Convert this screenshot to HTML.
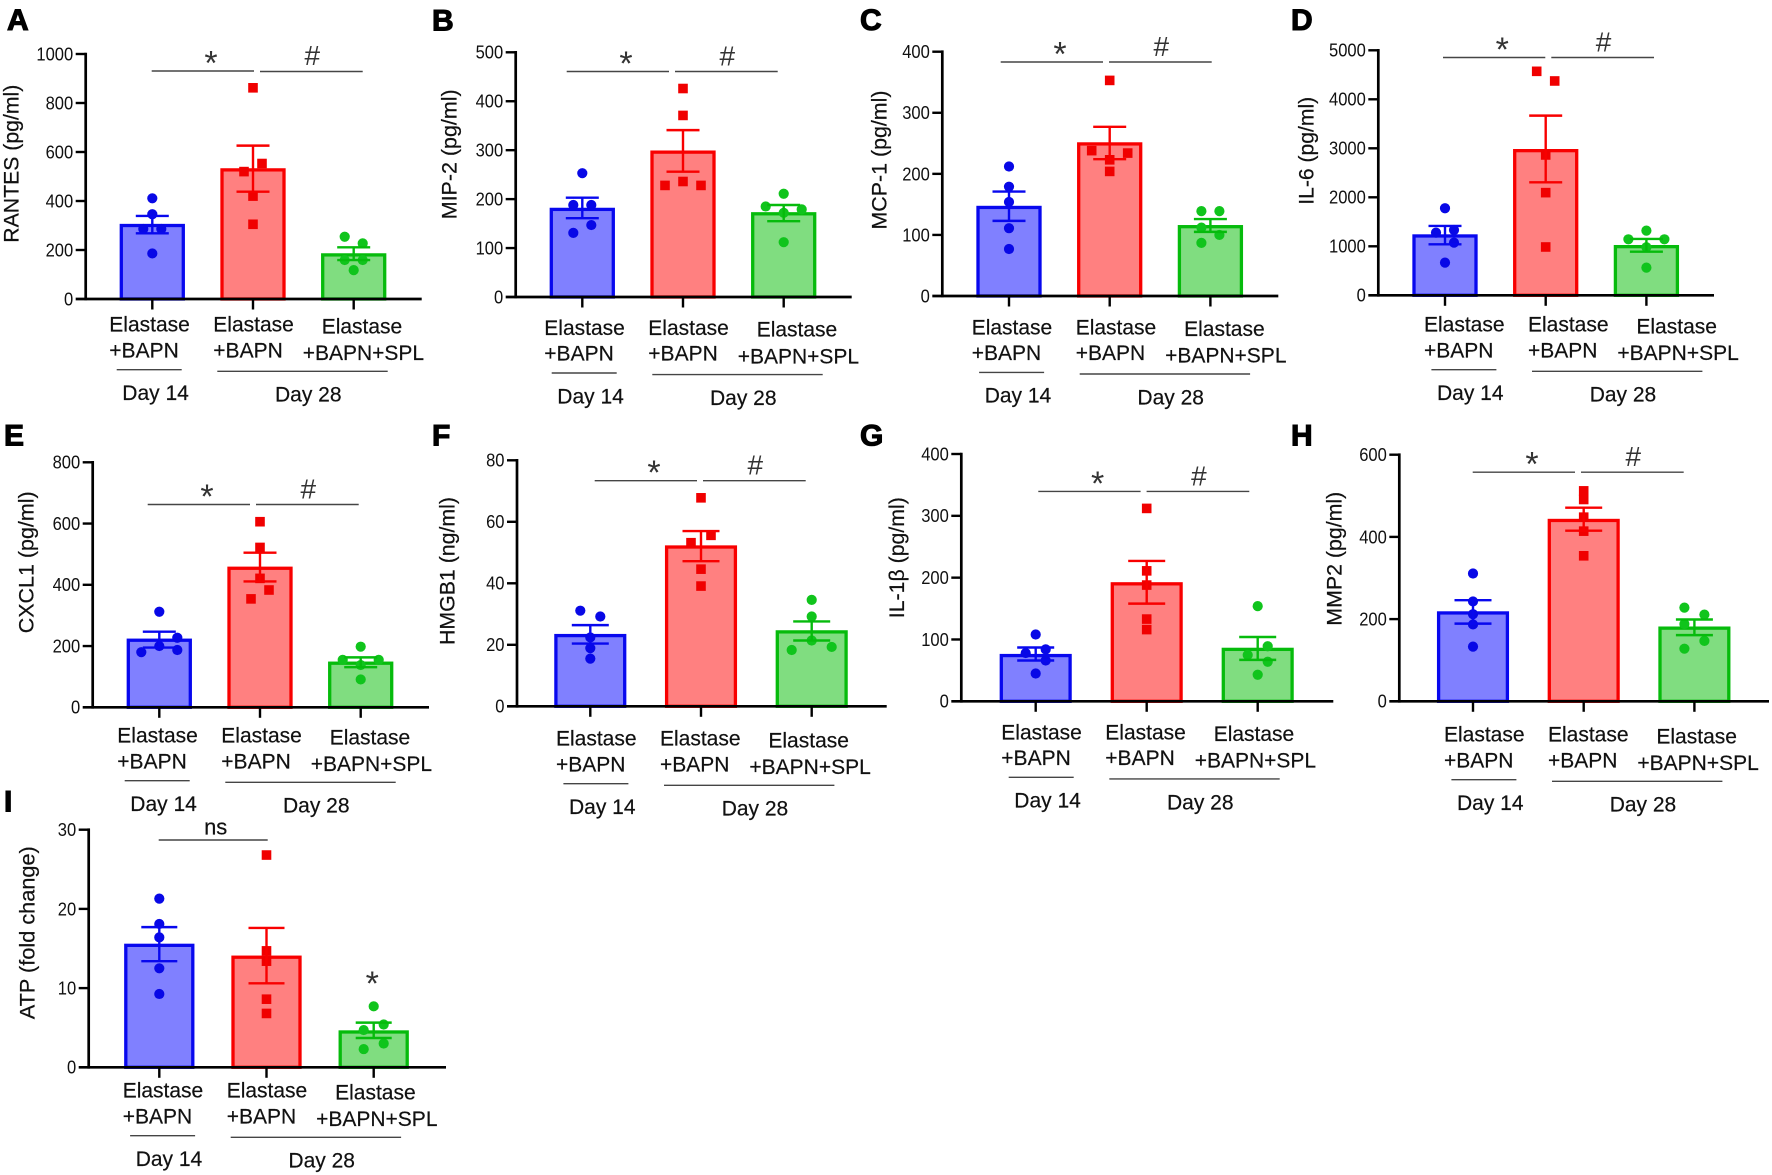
<!DOCTYPE html>
<html lang="en">
<head>
<meta charset="utf-8">
<title>Cytokine bar charts</title>
<style>
html,body{margin:0;padding:0;background:#fff;}
svg{display:block;filter:blur(0.3px);}
text{font-family:"Liberation Sans",Arial,sans-serif;fill:#111;}
.cat{font-size:21px;stroke:#111;stroke-width:.2px;}
.ttl{font-size:21px;text-anchor:middle;stroke:#111;stroke-width:.2px;}
.ltr{font-size:30px;font-weight:bold;fill:#000;stroke:#000;stroke-width:1.1px;}
.rule{stroke:#454545;stroke-width:1.4;fill:none;}
.star{font-size:34px;text-anchor:middle;fill:#333;}
.hash{font-size:28px;text-anchor:middle;fill:#333;}
</style>
</head>
<body>
<svg id="figure" xmlns="http://www.w3.org/2000/svg" width="1772" height="1175" viewBox="0 0 1772 1175">
<rect x="0" y="0" width="1772" height="1175" fill="#fff"/>

<!-- Panel letters -->
<text class="ltr" x="7" y="30">A</text>
<text class="ltr" x="432" y="30.5">B</text>
<text class="ltr" x="860" y="30">C</text>
<text class="ltr" x="1291" y="30">D</text>
<text class="ltr" x="4" y="445.7">E</text>
<text class="ltr" x="432" y="445.7">F</text>
<text class="ltr" x="860" y="445.7">G</text>
<text class="ltr" x="1291" y="445.7">H</text>
<text class="ltr" x="4" y="811.7">I</text>

<!-- Y axis titles -->
<text class="ttl" textLength="158" lengthAdjust="spacingAndGlyphs" transform="translate(18.3 163.7) rotate(-90)">RANTES (pg/ml)</text>
<text class="ttl" textLength="130" lengthAdjust="spacingAndGlyphs" transform="translate(456.7 154.3) rotate(-90)">MIP-2 (pg/ml)</text>
<text class="ttl" textLength="139" lengthAdjust="spacingAndGlyphs" transform="translate(886.7 160) rotate(-90)">MCP-1 (pg/ml)</text>
<text class="ttl" textLength="108" lengthAdjust="spacingAndGlyphs" transform="translate(1313.3 150.8) rotate(-90)">IL-6 (pg/ml)</text>
<text class="ttl" textLength="142" lengthAdjust="spacingAndGlyphs" transform="translate(33.3 562.3) rotate(-90)">CXCL1 (pg/ml)</text>
<text class="ttl" textLength="148" lengthAdjust="spacingAndGlyphs" transform="translate(454.3 571) rotate(-90)">HMGB1 (ng/ml)</text>
<text class="ttl" textLength="121" lengthAdjust="spacingAndGlyphs" transform="translate(904 557.7) rotate(-90)">IL-1β (pg/ml)</text>
<text class="ttl" textLength="134" lengthAdjust="spacingAndGlyphs" transform="translate(1341.7 558.7) rotate(-90)">MMP2 (pg/ml)</text>
<text class="ttl" textLength="173" lengthAdjust="spacingAndGlyphs" transform="translate(34.3 932.7) rotate(-90)">ATP (fold change)</text>

<!-- Category labels -->
<g transform="translate(0 0)">
<text class="cat" x="109.3" y="331.7">Elastase</text>
<text class="cat" x="109.3" y="357.3">+BAPN</text>
<text class="cat" x="213.3" y="331.7">Elastase</text>
<text class="cat" x="213.3" y="357.3">+BAPN</text>
<text class="cat" x="321.7" y="333.3">Elastase</text>
<text class="cat" x="302.7" y="360">+BAPN+SPL</text>
<line class="rule" x1="116.7" x2="181.7" y1="369.7" y2="369.7"/>
<line class="rule" x1="217.3" x2="387.7" y1="371.3" y2="371.3"/>
<text class="cat" x="122.3" y="400">Day 14</text>
<text class="cat" x="275" y="401.7">Day 28</text>
</g>
<g transform="translate(435 3.3)">
<text class="cat" x="109.3" y="331.7">Elastase</text>
<text class="cat" x="109.3" y="357.3">+BAPN</text>
<text class="cat" x="213.3" y="331.7">Elastase</text>
<text class="cat" x="213.3" y="357.3">+BAPN</text>
<text class="cat" x="321.7" y="333.3">Elastase</text>
<text class="cat" x="302.7" y="360">+BAPN+SPL</text>
<line class="rule" x1="116.7" x2="181.7" y1="369.7" y2="369.7"/>
<line class="rule" x1="217.3" x2="387.7" y1="371.3" y2="371.3"/>
<text class="cat" x="122.3" y="400">Day 14</text>
<text class="cat" x="275" y="401.7">Day 28</text>
</g>
<g transform="translate(862.4 2.7)">
<text class="cat" x="109.3" y="331.7">Elastase</text>
<text class="cat" x="109.3" y="357.3">+BAPN</text>
<text class="cat" x="213.3" y="331.7">Elastase</text>
<text class="cat" x="213.3" y="357.3">+BAPN</text>
<text class="cat" x="321.7" y="333.3">Elastase</text>
<text class="cat" x="302.7" y="360">+BAPN+SPL</text>
<line class="rule" x1="116.7" x2="181.7" y1="369.7" y2="369.7"/>
<line class="rule" x1="217.3" x2="387.7" y1="371.3" y2="371.3"/>
<text class="cat" x="122.3" y="400">Day 14</text>
<text class="cat" x="275" y="401.7">Day 28</text>
</g>
<g transform="translate(1314.7 0)">
<text class="cat" x="109.3" y="331.7">Elastase</text>
<text class="cat" x="109.3" y="357.3">+BAPN</text>
<text class="cat" x="213.3" y="331.7">Elastase</text>
<text class="cat" x="213.3" y="357.3">+BAPN</text>
<text class="cat" x="321.7" y="333.3">Elastase</text>
<text class="cat" x="302.7" y="360">+BAPN+SPL</text>
<line class="rule" x1="116.7" x2="181.7" y1="369.7" y2="369.7"/>
<line class="rule" x1="217.3" x2="387.7" y1="371.3" y2="371.3"/>
<text class="cat" x="122.3" y="400">Day 14</text>
<text class="cat" x="275" y="401.7">Day 28</text>
</g>
<g transform="translate(8 411)">
<text class="cat" x="109.3" y="331.7">Elastase</text>
<text class="cat" x="109.3" y="357.3">+BAPN</text>
<text class="cat" x="213.3" y="331.7">Elastase</text>
<text class="cat" x="213.3" y="357.3">+BAPN</text>
<text class="cat" x="321.7" y="333.3">Elastase</text>
<text class="cat" x="302.7" y="360">+BAPN+SPL</text>
<line class="rule" x1="116.7" x2="181.7" y1="369.7" y2="369.7"/>
<line class="rule" x1="217.3" x2="387.7" y1="371.3" y2="371.3"/>
<text class="cat" x="122.3" y="400">Day 14</text>
<text class="cat" x="275" y="401.7">Day 28</text>
</g>
<g transform="translate(446.7 414)">
<text class="cat" x="109.3" y="331.7">Elastase</text>
<text class="cat" x="109.3" y="357.3">+BAPN</text>
<text class="cat" x="213.3" y="331.7">Elastase</text>
<text class="cat" x="213.3" y="357.3">+BAPN</text>
<text class="cat" x="321.7" y="333.3">Elastase</text>
<text class="cat" x="302.7" y="360">+BAPN+SPL</text>
<line class="rule" x1="116.7" x2="181.7" y1="369.7" y2="369.7"/>
<line class="rule" x1="217.3" x2="387.7" y1="371.3" y2="371.3"/>
<text class="cat" x="122.3" y="400">Day 14</text>
<text class="cat" x="275" y="401.7">Day 28</text>
</g>
<g transform="translate(892 407.6)">
<text class="cat" x="109.3" y="331.7">Elastase</text>
<text class="cat" x="109.3" y="357.3">+BAPN</text>
<text class="cat" x="213.3" y="331.7">Elastase</text>
<text class="cat" x="213.3" y="357.3">+BAPN</text>
<text class="cat" x="321.7" y="333.3">Elastase</text>
<text class="cat" x="302.7" y="360">+BAPN+SPL</text>
<line class="rule" x1="116.7" x2="181.7" y1="369.7" y2="369.7"/>
<line class="rule" x1="217.3" x2="387.7" y1="371.3" y2="371.3"/>
<text class="cat" x="122.3" y="400">Day 14</text>
<text class="cat" x="275" y="401.7">Day 28</text>
</g>
<g transform="translate(1334.7 410)">
<text class="cat" x="109.3" y="331.7">Elastase</text>
<text class="cat" x="109.3" y="357.3">+BAPN</text>
<text class="cat" x="213.3" y="331.7">Elastase</text>
<text class="cat" x="213.3" y="357.3">+BAPN</text>
<text class="cat" x="321.7" y="333.3">Elastase</text>
<text class="cat" x="302.7" y="360">+BAPN+SPL</text>
<line class="rule" x1="116.7" x2="181.7" y1="369.7" y2="369.7"/>
<line class="rule" x1="217.3" x2="387.7" y1="371.3" y2="371.3"/>
<text class="cat" x="122.3" y="400">Day 14</text>
<text class="cat" x="275" y="401.7">Day 28</text>
</g>
<g transform="translate(13.4 766)">
<text class="cat" x="109.3" y="331.7">Elastase</text>
<text class="cat" x="109.3" y="357.3">+BAPN</text>
<text class="cat" x="213.3" y="331.7">Elastase</text>
<text class="cat" x="213.3" y="357.3">+BAPN</text>
<text class="cat" x="321.7" y="333.3">Elastase</text>
<text class="cat" x="302.7" y="360">+BAPN+SPL</text>
<line class="rule" x1="116.7" x2="181.7" y1="369.7" y2="369.7"/>
<line class="rule" x1="217.3" x2="387.7" y1="371.3" y2="371.3"/>
<text class="cat" x="122.3" y="400">Day 14</text>
<text class="cat" x="275" y="401.7">Day 28</text>
</g>

<!-- Significance annotations -->
<g transform="translate(0 0)">
<line class="rule" x1="151.7" x2="254" y1="71" y2="71"/>
<line class="rule" x1="260" x2="362.7" y1="71.5" y2="71.5"/>
<text class="star" x="211" y="74.5">*</text>
<text class="hash" x="312.3" y="65">#</text>
</g>
<g transform="translate(415 0.5)">
<line class="rule" x1="151.7" x2="254" y1="71" y2="71"/>
<line class="rule" x1="260" x2="362.7" y1="71" y2="71"/>
<text class="star" x="211" y="74.5">*</text>
<text class="hash" x="312.3" y="65">#</text>
</g>
<g transform="translate(849 -9)">
<line class="rule" x1="151.7" x2="254" y1="71" y2="71"/>
<line class="rule" x1="260" x2="362.7" y1="71" y2="71"/>
<text class="star" x="211" y="74.5">*</text>
<text class="hash" x="312.3" y="65">#</text>
</g>
<g transform="translate(1291.3 -13.5)">
<line class="rule" x1="151.7" x2="254" y1="71" y2="71"/>
<line class="rule" x1="260" x2="362.7" y1="71" y2="71"/>
<text class="star" x="211" y="74.5">*</text>
<text class="hash" x="312.3" y="65">#</text>
</g>
<g transform="translate(-4 433.5)">
<line class="rule" x1="151.7" x2="254" y1="71" y2="71"/>
<line class="rule" x1="260" x2="362.7" y1="71" y2="71"/>
<text class="star" x="211" y="74.5">*</text>
<text class="hash" x="312.3" y="65">#</text>
</g>
<g transform="translate(443 409.7)">
<line class="rule" x1="151.7" x2="254" y1="71" y2="71"/>
<line class="rule" x1="260" x2="362.7" y1="71" y2="71"/>
<text class="star" x="211" y="74.5">*</text>
<text class="hash" x="312.3" y="65">#</text>
</g>
<g transform="translate(886.6 420.4)">
<line class="rule" x1="151.7" x2="254" y1="71" y2="71"/>
<line class="rule" x1="260" x2="362.7" y1="71" y2="71"/>
<text class="star" x="211" y="74.5">*</text>
<text class="hash" x="312.3" y="65">#</text>
</g>
<g transform="translate(1321 401.2)">
<line class="rule" x1="151.7" x2="254" y1="71" y2="71"/>
<line class="rule" x1="260" x2="362.7" y1="71" y2="71"/>
<text class="star" x="211" y="74.5">*</text>
<text class="hash" x="312.3" y="65">#</text>
</g>
<g>
<line class="rule" x1="158.7" x2="267.7" y1="840" y2="840"/>
<text class="cat" x="215.7" y="834.3" text-anchor="middle" style="font-size:22px">ns</text>
<text class="star" x="372.3" y="995.2">*</text>
</g>

<g id="charts"></g>
</svg>

<script>
// Data: tick labels, bar means, SEM limits, replicate values, swarm slots
const categories = ['day14-elastase-bapn', 'day28-elastase-bapn', 'day28-elastase-bapn-spl'];

const ratesTicks = ['0', '200', '400', '600', '800', '1000'];
const ratesMeans = [300, 527, 180];
const ratesUpper = [339, 626, 211];
const ratesLower = [268, 438, 159];
const ratesPoints = [[411, 346, 286, 286, 186], [862, 553, 520, 420, 305], [254, 227, 159, 159, 118]];
const ratesSlots = [[0, 0, -1, 1, 0], [0, 1, -1, 0, 0], [-1, 1, -1, 1, 0]];

const mip2Ticks = ['0', '100', '200', '300', '400', '500'];
const mip2Means = [179, 296, 170];
const mip2Upper = [203, 341, 188];
const mip2Lower = [161, 256, 155];
const mip2Points = [[253, 188, 188, 147, 131], [426, 371, 236, 228, 228], [211, 185, 179, 172, 112]];
const mip2Slots = [[0, -1, 1, 1, -1], [0, 0, 0, -2, 2], [0, -2, 2, 0, 0]];

const mcp1Ticks = ['0', '100', '200', '300', '400'];
const mcp1Means = [145, 249, 113.5];
const mcp1Upper = [171, 277, 126];
const mcp1Lower = [123, 224, 105];
const mcp1Points = [[212, 179, 154, 111, 77], [353, 238, 234, 223, 204], [139, 139, 112, 100, 87]];
const mcp1Slots = [[0, 0, 0, 0, 0], [0, -2, 2, 0, 0], [-1, 1, -1, 1, -1]];

const il6Ticks = ['0', '1000', '2000', '3000', '4000', '5000'];
const il6Means = [1211, 2952, 993];
const il6Upper = [1415, 3667, 1150];
const il6Lower = [1041, 2306, 891];
const il6Points = [[1776, 1279, 1333, 1075, 667], [4571, 4374, 2864, 2095, 986], [1320, 1143, 1143, 980, 565]];
const il6Slots = [[0, -1, 1, 1, 0], [-1, 1, 0, 0, 0], [0, -2, 2, 0, 0]];

const cxcl1Ticks = ['0', '200', '400', '600', '800'];
const cxcl1Means = [219, 454, 144];
const cxcl1Upper = [247, 505, 163];
const cxcl1Lower = [195, 411, 131];
const cxcl1Points = [[312, 227, 200, 187, 180], [606, 522, 421, 383, 354], [198, 155, 155, 138, 91]];
const cxcl1Slots = [[0, 2, 0, 2, -2], [0, 0, 0, 1, -1], [0, -2, 2, 0, 0]];

const hmgb1Ticks = ['0', '20', '40', '60', '80'];
const hmgb1Means = [23, 51.8, 24.2];
const hmgb1Upper = [26.4, 57, 27.6];
const hmgb1Lower = [20.4, 47.2, 21.4];
const hmgb1Points = [[31.1, 29.2, 22.4, 18.9, 15.5], [67.8, 55.6, 53.2, 44.6, 39.1], [34.6, 29.2, 21.4, 18.3, 19.3]];
const hmgb1Slots = [[-1, 1, 0, 0, 0], [0, 1, -1, 0, 0], [0, 0, 0, -2, 2]];

const il1bTicks = ['0', '100', '200', '300', '400'];
const il1bMeans = [74, 190, 84];
const il1bUpper = [87, 227, 104];
const il1bLower = [66, 158, 67];
const il1bPoints = [[108, 78, 84, 66, 45], [312, 211, 188, 133, 116], [154, 89, 75, 64, 43]];
const il1bSlots = [[0, -1, 1, 1, 0], [0, 0, 0, 0, 0], [0, 1, -1, 1, 0]];

const mmp2Ticks = ['0', '200', '400', '600'];
const mmp2Means = [215, 440, 178];
const mmp2Upper = [246, 471, 199];
const mmp2Lower = [189, 415, 161];
const mmp2Points = [[311, 243, 212, 187, 133], [512, 491, 448, 414, 354], [228, 211, 188, 147, 128]];
const mmp2Slots = [[0, 0, 0, 0, 0], [0, 0, 0, 0, 0], [-1, 1, -1, 1, -1]];

const atpTicks = ['0', '10', '20', '30'];
const atpMeans = [15.4, 13.9, 4.46];
const atpUpper = [17.7, 17.6, 5.64];
const atpLower = [13.4, 10.6, 3.7];
const atpPoints = [[21.3, 18.1, 16.4, 12.5, 9.26], [26.8, 14.7, 13.4, 8.6, 6.8], [7.7, 5.4, 4.7, 3.0, 2.3]];
const atpSlots = [[0, 0, 0, 0, 0], [0, 0, 0, 0, 0], [0, 1, -1, 1, -1]];

// Panel geometry lives apart from the data
const frames = {
  a: {axisX: 85.7, y0: 299, yTop: 54, xEnd: 421.7, first: 152.3, step: 100.7, half: 31, cap: 16.5, slot: 9},
  b: {axisX: 515.7, y0: 297, yTop: 52.3, xEnd: 851.7, first: 582.3, step: 100.7, half: 31, cap: 16.5, slot: 9},
  c: {axisX: 942.3, y0: 296, yTop: 51.7, xEnd: 1278.3, first: 1009, step: 100.7, half: 31, cap: 16.5, slot: 9},
  d: {axisX: 1378.3, y0: 295.3, yTop: 50.3, xEnd: 1714, first: 1445, step: 100.7, half: 31, cap: 16.5, slot: 9},
  e: {axisX: 92.7, y0: 707.3, yTop: 462.3, xEnd: 429, first: 159.3, step: 100.7, half: 31, cap: 16.5, slot: 9},
  f: {axisX: 517, y0: 706.3, yTop: 460.3, xEnd: 886.7, first: 590.3, step: 110.7, half: 34.4, cap: 18.5, slot: 10},
  g: {axisX: 961.3, y0: 701.3, yTop: 454, xEnd: 1333.3, first: 1035.7, step: 111, half: 34.4, cap: 18.5, slot: 10},
  h: {axisX: 1399.3, y0: 701.3, yTop: 454.7, xEnd: 1769, first: 1473, step: 110.7, half: 34.4, cap: 18.5, slot: 10},
  i: {axisX: 88.7, y0: 1067.3, yTop: 829.7, xEnd: 446, first: 159.3, step: 107.2, half: 33.5, cap: 18, slot: 10}
};
const seriesStroke = ['#0808ee', '#f80000', '#06bb0c'];
const seriesFill = ['#8080ff', '#ff8080', '#80dd80'];
const seriesPoint = ['#0808e6', '#f00000', '#10c41c'];

const panels = [
  {key: 'a', ticks: ratesTicks, means: ratesMeans, upper: ratesUpper, lower: ratesLower, points: ratesPoints, slots: ratesSlots},
  {key: 'b', ticks: mip2Ticks, means: mip2Means, upper: mip2Upper, lower: mip2Lower, points: mip2Points, slots: mip2Slots},
  {key: 'c', ticks: mcp1Ticks, means: mcp1Means, upper: mcp1Upper, lower: mcp1Lower, points: mcp1Points, slots: mcp1Slots},
  {key: 'd', ticks: il6Ticks, means: il6Means, upper: il6Upper, lower: il6Lower, points: il6Points, slots: il6Slots},
  {key: 'e', ticks: cxcl1Ticks, means: cxcl1Means, upper: cxcl1Upper, lower: cxcl1Lower, points: cxcl1Points, slots: cxcl1Slots},
  {key: 'f', ticks: hmgb1Ticks, means: hmgb1Means, upper: hmgb1Upper, lower: hmgb1Lower, points: hmgb1Points, slots: hmgb1Slots},
  {key: 'g', ticks: il1bTicks, means: il1bMeans, upper: il1bUpper, lower: il1bLower, points: il1bPoints, slots: il1bSlots},
  {key: 'h', ticks: mmp2Ticks, means: mmp2Means, upper: mmp2Upper, lower: mmp2Lower, points: mmp2Points, slots: mmp2Slots},
  {key: 'i', ticks: atpTicks, means: atpMeans, upper: atpUpper, lower: atpLower, points: atpPoints, slots: atpSlots}
];

const SVG_NS = 'http://www.w3.org/2000/svg';
function make(tag, geometry, parent) {
  const node = document.createElementNS(SVG_NS, tag);
  for (const k in geometry) node.setAttribute(k, geometry[k]);
  parent.appendChild(node);
  return node;
}

function drawPanel(panel) {
  const f = frames[panel.key];
  const tickValues = panel.ticks.map(Number);
  const yMax = tickValues[tickValues.length - 1];
  const yScale = v => f.y0 - (v / yMax) * (f.y0 - f.yTop);
  const xScale = i => f.first + i * f.step;

  const group = make('g', {}, document.getElementById('charts'));
  
  

  panel.means.forEach((mean, i) => {
    const x = xScale(i);
    const bar = make('rect', {x: x - f.half, y: yScale(mean), width: f.half * 2, height: Math.max(0, f.y0 - yScale(mean)), fill: seriesFill[i], stroke: seriesStroke[i], 'stroke-width': 3.3}, group);
    
    
  });

  panel.points.forEach((values, i) => {
    values.forEach((v, j) => {
      const px = xScale(i) + panel.slots[i][j] * f.slot;
      let mark;
      if (i === 1) {
        mark = make('rect', {x: px - 4.8, y: yScale(v) - 4.8, width: 9.6, height: 9.6, fill: seriesPoint[i]}, group);
      } else {
        mark = make('circle', {cx: px, cy: yScale(v), r: 5.1, fill: seriesPoint[i]}, group);
      }
      
      
    });
  });

  panel.means.forEach((mean, i) => {
    const x = xScale(i);
    const hi = yScale(panel.upper[i]);
    const lo = yScale(panel.lower[i]);
    const whisker = make('path', {d: 'M' + x + ' ' + hi + 'V' + lo + 'M' + (x - f.cap) + ' ' + hi + 'H' + (x + f.cap) + 'M' + (x - f.cap) + ' ' + lo + 'H' + (x + f.cap), fill: 'none', stroke: seriesStroke[i], 'stroke-width': 2.4}, group);
    
    
  });

  const yAxis = make('line', {x1: f.axisX, x2: f.axisX, y1: f.yTop - 1.3, y2: f.y0 + 1.3, stroke: '#000', 'stroke-width': 2.7}, group);
  
  

  const xAxis = make('line', {x1: f.axisX - 10, x2: f.xEnd, y1: f.y0, y2: f.y0, stroke: '#000', 'stroke-width': 2.7}, group);
  
  

  panel.ticks.forEach((label, t) => {
    const ty = yScale(tickValues[t]);
    if (tickValues[t] !== 0) {
      const tick = make('line', {x1: f.axisX - 10, x2: f.axisX, y1: ty, y2: ty, stroke: '#000', 'stroke-width': 2.4}, group);
      
      
    }
    const tickLabel = make('text', {x: f.axisX - 12.5, y: ty + 6.4, 'text-anchor': 'end', textLength: label.length * 9.2, lengthAdjust: 'spacingAndGlyphs', style: 'font-size:18px'}, group);
    
    
    tickLabel.textContent = label;
  });

  categories.forEach((name, i) => {
    const x = xScale(i);
    const tick = make('line', {x1: x, x2: x, y1: f.y0, y2: f.y0 + 10.5, stroke: '#000', 'stroke-width': 2.4}, group);
    
    
  });
}

panels.forEach(drawPanel);
</script>
</body>
</html>
